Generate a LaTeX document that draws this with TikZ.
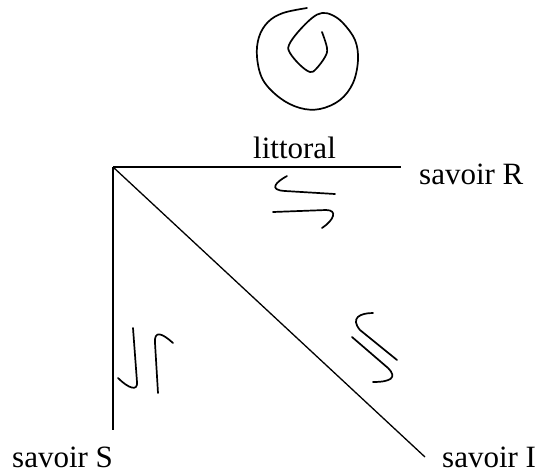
\documentclass[tikz,border=0pt]{standalone}
\usepackage{fontspec}
\setmainfont{Liberation Serif}
\begin{document}
\begin{tikzpicture}[%
      x=1pt, y=-1pt,
      word/.style={%
        inner sep = 0pt,
        anchor    = base west,
        font      = \fontsize{31}{36}\selectfont,
      },
      side/.style={%
        line width = 1.3pt,
        draw       = black,
      },
      stroke/.style={%
        line width = 1.7pt,
        line cap   = round,
        line join  = round,
      }
      ]

      \useasboundingbox (0,0) rectangle (542,475);

      \coordinate (Apex) at (113,167);
      \coordinate (End-R) at (401,167);
      \coordinate (End-S) at (113,430);
      \coordinate (End-I) at (425,457);

      \node[word] (Litt) at (253,158) {littoral};
      \node[word] (Sav-R) at (419,184) {savoir R};
      \node[word] (Sav-S) at (12,467) {savoir S};
      \node[word] (Sav-I) at (442,467) {savoir I};

      \draw[side] (Apex) -- (End-R);
      \draw[side] (Apex) -- (End-S);
      \draw[side] (Apex) -- (End-I);

      % spiral
      \draw[stroke] plot[smooth, tension=0.6] coordinates {%
        (307,8) (283,13) (268,22) (259,37) (257,57) (263,80) (280,98)
        (300,108) (320,109) (340,100) (353,83) (358,60) (355,40) (343,23)
        (332,15) (322,13) (312,18) (298,32) (289,45) (290,53) (300,65)
        (310,72) (316,69) (325,57) (327,48) (322,32)};

      % harpoons
      \draw[stroke] (287,176) .. controls (276,182) and (268,190) .. (285,191) -- (335,194);
      \draw[stroke] (273,212) -- (326,210) .. controls (338,210) and (334,220) .. (322,228);

      \draw[stroke] (133,328) -- (137,382) .. controls (138,392) and (128,388) .. (118,378);
      \draw[stroke] (158,393) -- (155,343) .. controls (154,330) and (162,333) .. (173,343);

      \draw[stroke] (373,313) .. controls (360,313) and (350,318) .. (360,330) -- (397,360);
      \draw[stroke] (352,337) -- (388,368) .. controls (398,378) and (390,382) .. (373,382);

    \end{tikzpicture}
\end{document}
